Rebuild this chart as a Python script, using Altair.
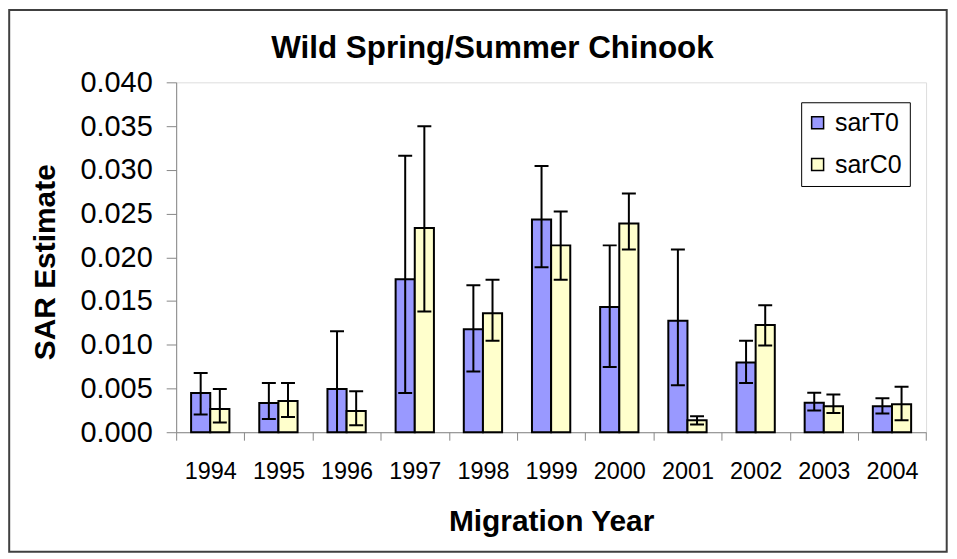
import altair as alt
import pandas as pd

years = ["1994", "1995", "1996", "1997", "1998", "1999", "2000", "2001", "2002", "2003", "2004"]
series_order = ["sarT0", "sarC0"]
series_colors = ["#9999FF", "#FFFFCC"]

sarT0 = [0.00449, 0.00335, 0.00494, 0.01748, 0.01178, 0.02432, 0.01432, 0.01273, 0.00798, 0.00338, 0.00296]
sarT0_lo = [0.00202, 0.00152, -0.0017, 0.00449, 0.00695, 0.01885, 0.00745, 0.00536, 0.00563, 0.00247, 0.00213]
sarT0_hi = [0.00677, 0.00563, 0.01155, 0.0316, 0.0168, 0.03043, 0.02136, 0.0209, 0.01045, 0.00452, 0.00387]

sarC0 = [0.00266, 0.00357, 0.00243, 0.02336, 0.01361, 0.02136, 0.02386, 0.00137, 0.01227, 0.00296, 0.00319]
sarC0_lo = [0.0011, 0.00175, 0.0008, 0.01379, 0.01045, 0.01744, 0.0209, 0.00088, 0.00991, 0.00221, 0.00137]
sarC0_hi = [0.00494, 0.00563, 0.00467, 0.03499, 0.01744, 0.02523, 0.02728, 0.00182, 0.01452, 0.0043, 0.00521]

y_ticks = [0.0, 0.005, 0.010, 0.015, 0.020, 0.025, 0.030, 0.035, 0.040]
chart_title = "Wild Spring/Summer Chinook"

rows = []
for i, yr in enumerate(years):
    rows.append(dict(year=yr, series="sarT0", value=sarT0[i], lo=sarT0_lo[i], hi=sarT0_hi[i]))
    rows.append(dict(year=yr, series="sarC0", value=sarC0[i], lo=sarC0_lo[i], hi=sarC0_hi[i]))
df = pd.DataFrame(rows)

FONT = "Arial, Liberation Sans, sans-serif"

x_enc = alt.X(
    "year:N",
    title="Migration Year",
    sort=years,
    scale=alt.Scale(paddingInner=0, paddingOuter=0),
    axis=alt.Axis(
        labelAngle=0, tickBand="extent", tickSize=8, labelPadding=38.6,
        labelBaseline="alphabetic", labelFontSize=23.5,
        titleFontSize=30, titleFontWeight="bold",
        titleBaseline="alphabetic", titleY=99,
    ),
)
xo_enc = alt.XOffset(
    "series:N", sort=series_order,
    scale=alt.Scale(domain=series_order, paddingInner=0, paddingOuter=0.78),
)
y_scale = alt.Scale(domain=[0, 0.04], nice=False, zero=True)
y_axis = alt.Axis(
    values=y_ticks, format=".3f", grid=False, tickSize=10, labelPadding=14,
    labelFontSize=29, titleFontSize=30, titleFontWeight="bold",
    titleX=-121.7, titleY=180, titleBaseline="alphabetic",
)

base = alt.Chart(df)

bars = base.mark_bar(stroke="black", strokeWidth=2).encode(
    x=x_enc,
    xOffset=xo_enc,
    y=alt.Y("value:Q", title="SAR Estimate", scale=y_scale, axis=y_axis),
    color=alt.Color(
        "series:N", sort=series_order,
        scale=alt.Scale(domain=series_order, range=series_colors),
        legend=alt.Legend(
            title=None, orient="none", legendX=627, legendY=20, direction="vertical",
            padding=8, strokeColor="black", fillColor="white",
            symbolType="square", symbolSize=144, symbolStrokeColor="black",
            symbolStrokeWidth=1.5, symbolOpacity=1, symbolOffset=-4,
            labelFontSize=25, labelOffset=5, rowPadding=16, labelFont=FONT,
        ),
    ),
)

rules = base.mark_rule(color="black", strokeWidth=2, clip=True).encode(
    x=x_enc, xOffset=xo_enc,
    y=alt.Y("lo:Q", title="SAR Estimate", scale=y_scale),
    y2="hi:Q",
)
caps_lo = base.mark_tick(orient="horizontal", color="black", thickness=2, size=14, clip=True, opacity=1).encode(
    x=x_enc, xOffset=xo_enc,
    y=alt.Y("lo:Q", title="SAR Estimate", scale=y_scale),
)
caps_hi = base.mark_tick(orient="horizontal", color="black", thickness=2, size=14, clip=True, opacity=1).encode(
    x=x_enc, xOffset=xo_enc,
    y=alt.Y("hi:Q", title="SAR Estimate", scale=y_scale),
)

frame = alt.Chart(alt.Data(values=[{"a": 1}])).mark_rect(
    fillOpacity=0, stroke="#404040", strokeWidth=2
).encode(
    x=alt.value(-167.5), x2=alt.value(773), y=alt.value(-72.5), y2=alt.value(471)
)

title_text = alt.Chart(alt.Data(values=[{"t": chart_title}])).mark_text(
    font=FONT, fontSize=31.5, fontWeight="bold", align="center", baseline="alphabetic", color="black"
).encode(
    text="t:N", x=alt.value(317.3), y=alt.value(-24)
)

chart = alt.layer(frame, title_text, bars, rules, caps_lo, caps_hi).properties(
    width=752.3,
    height=351,
    autosize=alt.AutoSizeParams(type="none"),
    padding={"left": 168.7, "top": 73.7, "right": 23, "bottom": 122},
).configure_axis(
    domainColor="black", tickColor="black", labelColor="black", titleColor="black",
    labelFont=FONT, titleFont=FONT, domainWidth=1, tickWidth=1,
).configure_view(
    stroke="black", strokeWidth=1,
).configure(background="white")

chart.save("out.html", embed_options={"renderer": "svg", "actions": False})
